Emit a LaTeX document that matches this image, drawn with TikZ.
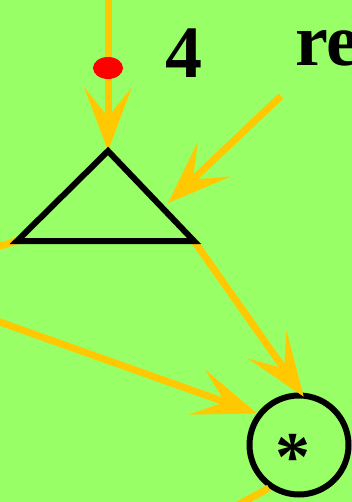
\documentclass[tikz,border=0pt]{standalone}
\usepackage{fontspec}
\setmainfont{Liberation Serif}
\usepackage{xcolor}
\usetikzlibrary{arrows.meta, positioning, calc}
\definecolor{figGreen}{RGB}{153,255,102}
\definecolor{figGold}{RGB}{255,200,0}
\definecolor{figRed}{RGB}{255,0,0}

\begin{document}
\begin{tikzpicture}[x=1pt, y=-1pt,
    wire/.style={draw=figGold, line width=7pt,
      -{Stealth[length=64pt, width=48pt, inset=30pt, line width=0pt, figGold]}},
    plainwire/.style={draw=figGold, line width=7pt},
    bigtext/.style={font=\fontsize{74}{74}\selectfont\bfseries, inner sep=0pt}]
  \useasboundingbox (0,0) rectangle (352,502);
  \clip (0,0) rectangle (352,502);
  \fill[figGreen] (0,0) rectangle (352,502);
  % triangle corners and the circle
  \coordinate (apex) at (108,151);
  \coordinate (tl) at (17,241);
  \coordinate (tr) at (194,241);
  \node[circle, draw, line width=6pt, minimum size=99pt, inner sep=0pt] (mul) at (299,445) {};
  \node[font=\fontsize{70}{70}\selectfont\bfseries, inner sep=0pt] (star) at (293,457) {*};
  % loose ends
  \coordinate (inTop) at (108,-10);
  \coordinate (inDiag) at (281,96);
  \coordinate (tipDiag) at (168,203);
  \coordinate (inLeft) at (-30,255);
  \coordinate (inLow) at (-20,315);
  \coordinate (outBot) at (225,512);
  % wires
  \draw[wire] (inTop) -- (apex);
  \draw[wire] (inDiag) -- (tipDiag);
  \draw[plainwire] (inLeft) -- (tl);
  \draw[wire] (inLow) -- (mul.143);
  \draw[wire, shorten >=-5pt] (tr) -- (mul.88);
  \draw[plainwire] (mul.235) -- (outBot);
  % triangle on top of wires
  \draw[line width=6pt, line join=miter] (apex) -- (tr) -- (tl) -- cycle;
  \fill[figRed] (108,68) ellipse (15pt and 11pt);
  \node[bigtext, anchor=base] (four) at (184,78) {4};
  \node[bigtext, anchor=base west] (lbl) at (295,66) {re};
\end{tikzpicture}
\end{document}
